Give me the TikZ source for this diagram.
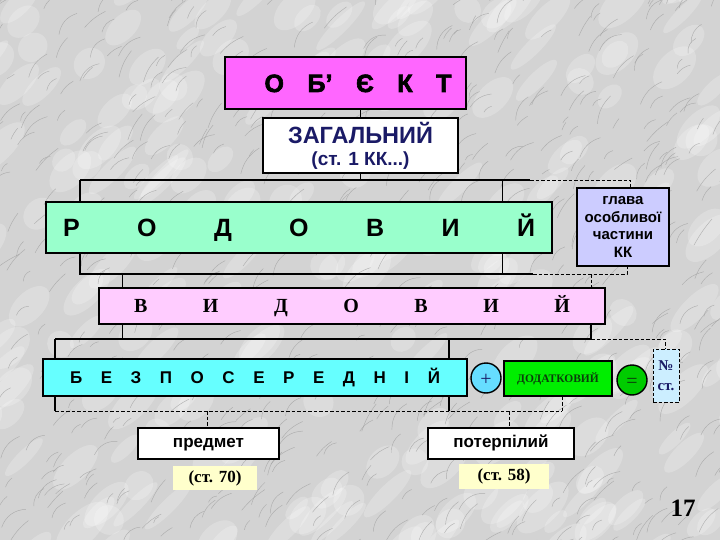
\documentclass[tikz,border=0pt]{standalone}
\usepackage{fontspec}
\setmainfont{Liberation Serif}
\setsansfont{Liberation Sans}
\newfontfamily\arl{Liberation Sans}
\newfontfamily\tms{Liberation Serif}
\newfontfamily\blk[FakeBold=2.5]{Liberation Sans}
\definecolor{bgc}{HTML}{D3D3D3}
\definecolor{veinc}{HTML}{A0A0A0}
\definecolor{objc}{HTML}{FF66FF}
\definecolor{rodc}{HTML}{99FFCC}
\definecolor{glc}{HTML}{CCCCFF}
\definecolor{vydc}{HTML}{FFCCFF}
\definecolor{bezc}{HTML}{66FFFF}
\definecolor{plusc}{HTML}{66DDFF}
\definecolor{dodc}{HTML}{00EE00}
\definecolor{dodt}{HTML}{0B3D0B}
\definecolor{eqc}{HTML}{00CC00}
\definecolor{nostc}{HTML}{CCEEFF}
\definecolor{stc}{HTML}{FFFFCC}
\definecolor{navy}{HTML}{1A1A66}
\tikzset{
  box/.style={draw=black, line width=1.4pt, rectangle, inner sep=0pt},
  conn/.style={draw=black, line width=1.4pt},
  dconn/.style={draw=black, line width=0.9pt, dash pattern=on 3.5pt off 2pt},
  round/.style={draw=black, line width=1.4pt, circle, inner sep=0pt, minimum size=30pt,
    text height=14pt, text depth=0pt},
  vein/.style={draw=veinc, line width=0.45pt, opacity=0.75},
  blot/.style={fill=white, opacity=0.22},
}
\begin{document}
\begin{tikzpicture}[x=1pt,y=-1pt]
% marble background
\fill[bgc] (0,0) rectangle (720,540);
\begin{scope}
\clip (0,0) rectangle (720,540);
\pgfmathsetseed{17}
\foreach \i in {1,...,260}{
  \pgfmathsetmacro\xa{rnd*760-20}
  \pgfmathsetmacro\ya{rnd*580-20}
  \pgfmathsetmacro\ra{12+rnd*22}
  \pgfmathsetmacro\rb{6+rnd*10}
  \fill[blot] (\xa,\ya) ellipse [x radius=\ra, y radius=\rb, rotate=45];
}
\foreach \i in {1,...,650}{
  \pgfmathsetmacro\xa{rnd*760-20}
  \pgfmathsetmacro\ya{rnd*580-20}
  \pgfmathsetmacro\len{8+rnd*24}
  \pgfmathsetmacro\ang{30+rnd*35}
  \pgfmathsetmacro\bnd{5+rnd*30}
  \draw[vein] (\xa,\ya) to[bend left=\bnd] ++({\len*cos(\ang)},{-\len*sin(\ang)});
}
\end{scope}
\useasboundingbox (0,0) rectangle (720,540);

% boxes
\node[box, fill=objc, minimum width=241pt, minimum height=52pt,
  text height=18pt, text depth=0pt] (obj) at (345.5,83)
  {\blk\bfseries\fontsize{25}{25}\selectfont\hspace*{25pt}\makebox[187pt][s]{О\hfil Б’\hfil Є\hfil К\hfil Т}};
\node[box, fill=white, minimum width=195pt, minimum height=55pt, align=center,
  text=navy, font=\arl\bfseries\fontsize{19}{22}\selectfont] (gen) at (360.5,145.5)
  {{\fontsize{23.5}{22}\selectfont ЗАГАЛЬНИЙ}\\(ст. 1 КК...)};
\node[box, fill=rodc, minimum width=506pt, minimum height=51pt,
  text height=18pt, text depth=0pt] (rod) at (299,227.5)
  {\arl\bfseries\fontsize{25}{25}\selectfont\makebox[472pt][s]{Р\hfil О\hfil Д\hfil О\hfil В\hfil И\hfil Й}};
\node[box, fill=glc, minimum width=92pt, minimum height=78pt, align=center,
  font=\arl\bfseries\fontsize{15}{17.5}\selectfont] (glava) at (623,227)
  {глава\\особливої\\частини\\КК};
\node[box, fill=vydc, minimum width=506pt, minimum height=36pt,
  text height=13.5pt, text depth=0pt] (vyd) at (352,306)
  {\tms\bfseries\fontsize{20}{20}\selectfont\makebox[436pt][s]{В\hfil И\hfil Д\hfil О\hfil В\hfil И\hfil Й}};
\node[box, fill=bezc, minimum width=424pt, minimum height=37pt,
  text height=12.2pt, text depth=0pt] (bez) at (255,377.5)
  {\arl\bfseries\fontsize{17}{17}\selectfont\makebox[370pt][s]{Б\hfil Е\hfil З\hfil П\hfil О\hfil С\hfil Е\hfil Р\hfil Е\hfil Д\hfil Н\hfil І\hfil Й}};
\node[round, fill=plusc, font=\tms\fontsize{20}{20}\selectfont, text=navy] (plus) at (486,378) {+};
\node[box, fill=dodc, minimum width=108pt, minimum height=35pt, text=dodt,
  font=\tms\bfseries\fontsize{11.5}{12}\selectfont] (dod) at (558,378.5) {ДОДАТКОВИЙ};
\node[round, fill=eqc, font=\tms\fontsize{20}{20}\selectfont, text=dodt] (eq) at (632,380) {=};
\node[draw=black, line width=0.9pt, dash pattern=on 3.5pt off 2pt, fill=nostc, inner sep=0pt,
  minimum width=26pt, minimum height=53pt, align=center, text=navy,
  font=\tms\bfseries\fontsize{15}{20}\selectfont] (nost) at (666,375.5) {№\\ст.};
\node[box, fill=white, minimum width=141pt, minimum height=31pt,
  text height=8.8pt, text depth=0pt,
  font=\arl\bfseries\fontsize{17}{17}\selectfont] (predmet) at (208.5,443.5) {предмет};
\node[fill=stc, minimum width=84pt, minimum height=24pt, inner sep=0pt,
  font=\tms\bfseries\fontsize{17}{17}\selectfont] (st70) at (215,478) {(ст. 70)};
\node[box, fill=white, minimum width=146pt, minimum height=31pt,
  text height=8.8pt, text depth=0pt,
  font=\arl\bfseries\fontsize{17}{17}\selectfont] (poter) at (501,443.5) {потерпілий};
\node[fill=stc, minimum width=90pt, minimum height=25pt, inner sep=0pt,
  font=\tms\bfseries\fontsize{17}{17}\selectfont] (st58) at (504,476.5) {(ст. 58)};
\node[font=\tms\bfseries\fontsize{25}{25}\selectfont] (pg) at (683,508) {17};

% bus coordinates
\coordinate (b1l) at (80,180);
\coordinate (b1m) at (530,180);
\coordinate (b1r) at (630,180);
\coordinate (b1x) at (502.7,180);
\coordinate (b2l) at (80,274);
\coordinate (b2m) at (533,274);
\coordinate (b2r) at (627,274);
\coordinate (b2x) at (502.7,274);
\coordinate (b2v) at (591,274);
\coordinate (b2a) at (122.7,274);
\coordinate (b3l) at (55,339);
\coordinate (b3a) at (122.7,339);
\coordinate (b3c) at (449,339);
\coordinate (b3m) at (591,339);
\coordinate (b3r) at (665,339);
\coordinate (b4l) at (55,411);
\coordinate (b4c) at (449,411);
\coordinate (b4p) at (207.7,411);
\coordinate (b4q) at (509,411);
\coordinate (b4r) at (562,411);

% level 1: object -> general -> generic
\draw[conn] (obj.south -| gen.north) -- (gen.north);
\draw[conn] (gen.south) -- (gen.south |- b1l);
\draw[conn] (b1l) -- (b1m);
\draw[dconn] (b1m) -- (b1r) -- (b1r |- glava.north);
\draw[conn] (b1l) -- (b1l |- rod.north);
\draw[conn] (b1x) -- (b1x |- rod.north);

% level 2: generic -> specific
\draw[conn] (b1l |- rod.south) -- (b2l) -- (b2m);
\draw[conn] (b2x |- rod.south) -- (b2x);
\draw[dconn] (b2m) -- (b2r) -- (b2r |- glava.south);
\draw[dconn] (b2v) -- (b2v |- vyd.north);
\draw[conn] (b2a) -- (b2a |- vyd.north);

% level 3: specific -> immediate
\draw[conn] (b3a |- vyd.south) -- (b3a);
\draw[conn] (b3m |- vyd.south) -- (b3m);
\draw[conn] (b3l) -- (b3m);
\draw[dconn] (b3m) -- (b3r) -- (b3r |- nost.north);
\draw[conn] (b3l) -- (b3l |- bez.north);
\draw[conn] (b3c) -- (b3c |- bez.north);

% level 4: immediate -> subject / victim
\draw[conn] (b4l |- bez.south) -- (b4l);
\draw[conn] (b4c |- bez.south) -- (b4c);
\draw[dconn] (b4l) -- (b4r);
\draw[dconn] (b4r |- dod.south) -- (b4r);
\draw[dconn] (b4p) -- (b4p |- predmet.north);
\draw[dconn] (b4q) -- (b4q |- poter.north);
\end{tikzpicture}
\end{document}
